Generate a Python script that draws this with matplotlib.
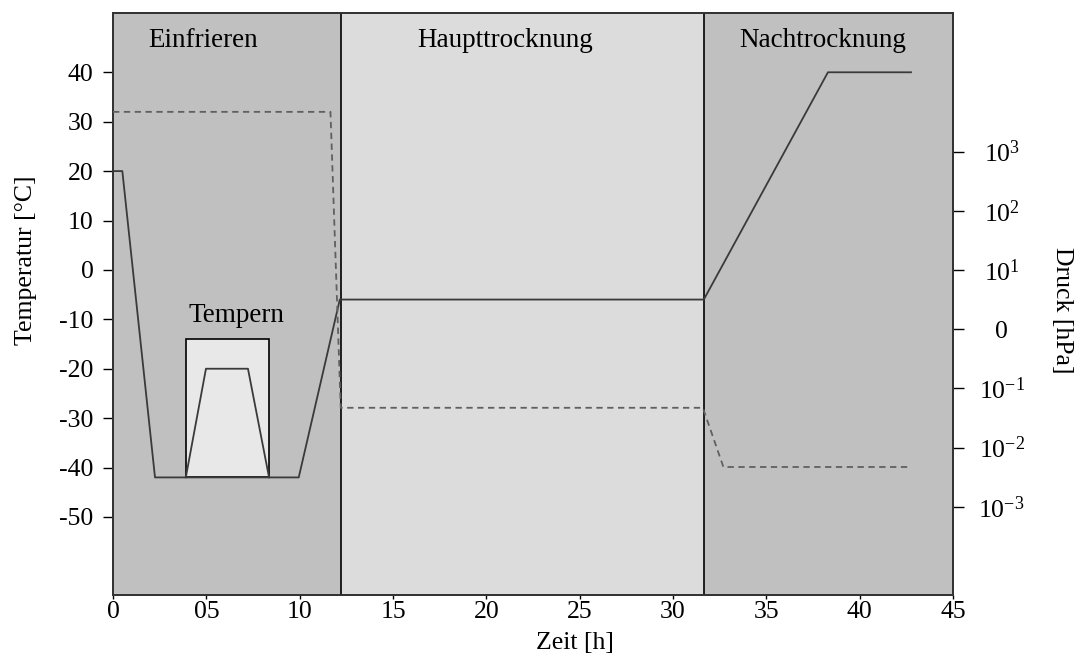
import matplotlib
matplotlib.use("Agg")
import matplotlib.pyplot as plt
from matplotlib.patches import Rectangle

plt.rcParams['font.family'] = ['Liberation Serif', 'DejaVu Serif']
plt.rcParams['mathtext.fontset'] = 'custom'
plt.rcParams['mathtext.rm'] = 'Liberation Serif'
plt.rcParams['mathtext.it'] = 'Liberation Serif'

# ---- data ----
phase_names = ["Einfrieren", "Haupttrocknung", "Nachtrocknung"]
phase_bounds = [0.0, 12.2, 31.65, 45.0]
phase_label_x = [4.8, 21.0, 38.0]

temp_t = [0.0, 0.5, 2.25, 9.95, 12.15, 31.65, 38.3, 42.75]
temp_v = [20, 20, -42, -42, -6, -6, 40, 40]

tempern_t = [3.9, 4.98, 7.23, 8.36]
tempern_v = [-42, -20, -20, -42]
tempern_box = (3.9, 8.36, -42, -14)

press_t = [0.0, 11.65, 12.2, 31.6, 32.7, 42.75]
press_v = [4680, 4680, 0.047, 0.047, 0.0047, 0.0047]

x_ticks = [0, 5, 10, 15, 20, 25, 30, 35, 40, 45]
x_labels = ["0", "05", "10", "15", "20", "25", "30", "35", "40", "45"]
y_ticks = [40, 30, 20, 10, 0, -10, -20, -30, -40, -50]
p_ticks = [1e3, 1e2, 1e1, 1e0, 1e-1, 1e-2, 1e-3]
p_labels = [r"$\mathregular{10^{3}}$", r"$\mathregular{10^{2}}$", r"$\mathregular{10^{1}}$", "0",
            r"$\mathregular{10^{-1}}$", r"$\mathregular{10^{-2}}$", r"$\mathregular{10^{-3}}$"]

FS = 18.5
FS_PH = 19.5
fig = plt.figure(figsize=(10.77, 6.57), dpi=100)
ax = fig.add_axes([113/1077, 1-595/657, (953-113)/1077, (595-13)/657])

ax.set_xlim(0, 45)
ax.set_ylim(-65.8, 52.0)

dark = "#c0c0c0"
light = "#dcdcdc"
cols = [dark, light, dark]
for i in range(3):
    ax.axvspan(phase_bounds[i], phase_bounds[i+1], color=cols[i], zorder=0, lw=0)
for b in phase_bounds[1:3]:
    ax.axvline(b, color="black", lw=1.2, zorder=3)
for name, xx in zip(phase_names, phase_label_x):
    ax.text(xx, 45.2, name, ha="center", va="baseline", fontsize=FS_PH, zorder=5)

x0, x1, y0, y1 = tempern_box
ax.add_patch(Rectangle((x0, y0), x1-x0, y1-y0, facecolor="#e8e8e8", edgecolor="black", lw=1.2, zorder=2))
ax.text((x0+x1)/2 + 0.5, -10.5, "Tempern", ha="center", va="baseline", fontsize=FS_PH, zorder=5)

ax.plot(temp_t, temp_v, color="#3a3a3a", lw=1.3, zorder=4)
ax.plot(tempern_t, tempern_v, color="#3a3a3a", lw=1.3, zorder=4)

ax.set_xticks(x_ticks)
ax.set_xticklabels(x_labels)
ax.set_yticks(y_ticks)
ax.set_yticklabels([str(v) for v in y_ticks])
ax.tick_params(axis="y", direction="out", length=7, width=1, pad=7, labelsize=FS)
ax.tick_params(axis="x", direction="out", length=3, width=1, pad=1, labelsize=FS)
for s in ax.spines.values():
    s.set_linewidth(1.3)
    s.set_color("#333333")

ax2 = ax.twinx()
ax2.set_yscale("log")
ax2.set_ylim(10**-4.49, 10**5.34)
ax2.plot(press_t, press_v, color="#606060", lw=1.3, ls=(0, (3.5, 2.5)), zorder=4)
ax2.set_yticks(p_ticks)
ax2.set_yticklabels(p_labels)
ax2.minorticks_off()
ax2.tick_params(axis="y", direction="out", length=8, width=1, pad=27, labelsize=FS)
for lab in ax2.get_yticklabels():
    lab.set_horizontalalignment("center")
for s in ax2.spines.values():
    s.set_linewidth(1.3)
    s.set_color("#333333")

fig.text(26/1077, 1-260/657, "Temperatur [°C]", rotation=90, ha="center", va="center", fontsize=FS)
fig.text(1062/1077, 1-310/657, "Druck [hPa]", rotation=-90, ha="center", va="center", fontsize=FS)
fig.text(575/1077, 1-643/657, "Zeit [h]", ha="center", va="center", fontsize=FS)

fig.savefig("out.png", dpi=100)
